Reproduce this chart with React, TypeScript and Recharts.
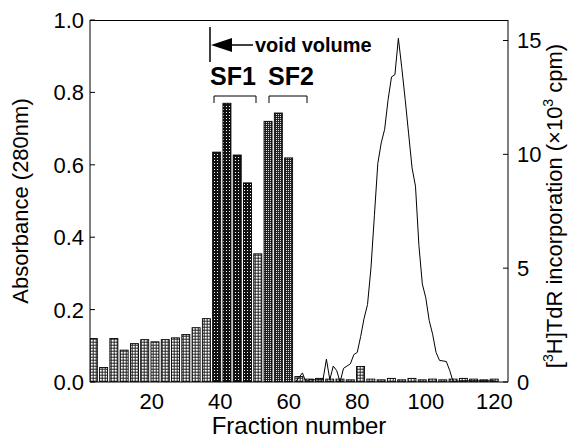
import { ComposedChart, Bar, Line, XAxis, YAxis, Cell } from "recharts";

// bars: one per pooled fraction, in absorbance units (left axis)
const barFractions = [
  3, 6, 9, 12, 15, 18, 21, 24, 27, 30, 33, 36, 39, 42, 45, 48, 51, 54, 57, 60,
  63, 66, 69, 72, 75, 78, 81, 84, 87, 90, 93, 96, 99, 102, 105, 108, 111, 114,
  117, 120,
];
const barAbsorbance = [
  0.12, 0.04, 0.12, 0.088, 0.106, 0.117, 0.111, 0.117, 0.122, 0.131, 0.15,
  0.175, 0.635, 0.77, 0.627, 0.55, 0.354, 0.72, 0.743, 0.619, 0.015, 0.008,
  0.01, 0.008, 0.008, 0.006, 0.043, 0.008, 0.006, 0.01, 0.006, 0.01, 0.006,
  0.008, 0.006, 0.008, 0.01, 0.008, 0.006, 0.008,
];
const barGroups = [
  "light", "light", "light", "light", "light", "light", "light", "light",
  "light", "light", "light", "light", "sf1", "sf1", "sf1", "sf1", "light",
  "sf2", "sf2", "sf2", "light", "light", "light", "light", "light", "light",
  "light", "light", "light", "light", "light", "light", "light", "light",
  "light", "light", "light", "light", "light", "light",
];

// line: [3H]TdR incorporation (x10^3 cpm, right axis)
const lineFractions = [
  62, 64, 65, 66, 68, 70, 71, 72, 73, 74, 75, 76, 78, 79, 80, 81, 82, 83, 84,
  85, 86, 87, 88, 89, 90, 91, 92, 93, 94, 95, 96, 97, 98, 99, 100, 101, 102,
  103, 104, 106, 107, 108, 110, 120,
];
const lineCpm = [
  0, 0.4, 0, 0.1, 0.1, 0.1, 1.0, 0.1, 0.7, 0.5, 0, 0.6, 0.8, 1.2, 1.3, 2.0,
  2.8, 3.4, 5.0, 7.3, 9.6, 10.5, 11.1, 12.4, 13.4, 13.5, 15.1, 13.8, 12.4,
  10.9, 9.4, 8.6, 6.0, 4.3, 3.7, 2.7, 2.1, 1.3, 0.95, 0.9, 0.5, 0, 0.05, 0.05,
];

const absorbanceTicks = [0, 0.2, 0.4, 0.6, 0.8, 1.0];
const cpmTicks = [0, 5, 10, 15];
const fractionTicks = [20, 40, 60, 80, 100, 120];
const fractionDomain = [2, 124];

const W = 580;
const H = 441;
const PLOT_LEFT = 90;
const PLOT_RIGHT = 508;
const PLOT_TOP = 20;
const PLOT_BOTTOM = 382;
const BAR_W = 8;
const FONT = '"Liberation Sans", Arial, Helvetica, sans-serif';

const barData = barFractions.map((f, i) => ({
  fraction: f,
  absorbance: barAbsorbance[i],
  group: barGroups[i],
}));
const lineData = lineFractions.map((f, i) => ({ fraction: f, cpm: lineCpm[i] }));

const fills: Record<string, string> = {
  light: "url(#pLight)",
  sf1: "url(#pSf1)",
  sf2: "url(#pSf2)",
};

// narrower rect centred in the band the library hands us
function BarShape(props: any) {
  const { x, y, width, height, payload } = props;
  if (!height || height <= 0) return null;
  const cx = x + width / 2;
  return (
    <rect
      x={cx - BAR_W / 2}
      y={y}
      width={BAR_W}
      height={height}
      fill={fills[payload.group]}
      stroke="#000"
      strokeWidth={0.9}
    />
  );
}

function LeftTick(props: any) {
  const { y, payload } = props;
  return (
    <g>
      <line x1={PLOT_LEFT} x2={PLOT_LEFT + 5} y1={y} y2={y} stroke="#000" />
      <text x={PLOT_LEFT - 6} y={y} dy="0.36em" textAnchor="end" fontSize={22} fontFamily={FONT} fill="#000">
        {Number(payload.value).toFixed(1)}
      </text>
    </g>
  );
}

function RightTick(props: any) {
  const { y, payload } = props;
  return (
    <g>
      <line x1={PLOT_RIGHT - 5} x2={PLOT_RIGHT} y1={y} y2={y} stroke="#000" />
      <text x={PLOT_RIGHT + 9} y={y} dy="0.36em" textAnchor="start" fontSize={22} fontFamily={FONT} fill="#000">
        {payload.value}
      </text>
    </g>
  );
}

function BottomTick(props: any) {
  const { x, payload } = props;
  return (
    <text x={x} y={PLOT_BOTTOM + 27} textAnchor="middle" fontSize={22} fontFamily={FONT} fill="#000">
      {payload.value}
    </text>
  );
}

export default function App() {
  return (
    <div
      style={{
        position: "absolute",
        left: 0,
        top: 0,
        width: W,
        height: H,
        background: "#fff",
        fontFamily: FONT,
      }}
    >
      <ComposedChart
        width={W}
        height={H}
        data={barData}
        margin={{ top: PLOT_TOP, right: 0, bottom: 0, left: 0 }}
      >
        <defs>
          <pattern id="pLight" width="3" height="3" patternUnits="userSpaceOnUse">
            <rect width="3" height="3" fill="#222" />
            <rect x="0.7" y="0.7" width="2" height="2" fill="#fff" />
          </pattern>
          <pattern id="pSf1" width="3" height="3" patternUnits="userSpaceOnUse">
            <rect width="3" height="3" fill="#111" />
            <rect x="1" y="1" width="1" height="1" fill="#fff" />
          </pattern>
          <pattern id="pSf2" width="2" height="2" patternUnits="userSpaceOnUse">
            <rect width="2" height="2" fill="#222" />
            <rect x="0" y="0" width="1" height="1" fill="#ddd" />
          </pattern>
        </defs>
        <XAxis
          dataKey="fraction"
          type="number"
          domain={fractionDomain}
          ticks={fractionTicks}
          interval={0}
          height={H - PLOT_BOTTOM}
          axisLine={{ stroke: "#000" }}
          tickLine={false}
          tick={BottomTick}
          allowDataOverflow
        />
        <XAxis
          xAxisId="line"
          dataKey="fraction"
          type="number"
          domain={fractionDomain}
          allowDataOverflow
          hide
        />
        <YAxis
          yAxisId="left"
          orientation="left"
          width={PLOT_LEFT}
          domain={[0, 1]}
          ticks={absorbanceTicks}
          interval={0}
          axisLine={{ stroke: "#000" }}
          tickLine={false}
          tick={LeftTick}
          allowDataOverflow
        />
        <YAxis
          yAxisId="right"
          orientation="right"
          width={W - PLOT_RIGHT}
          domain={[0, 15.9]}
          ticks={cpmTicks}
          interval={0}
          axisLine={{ stroke: "#000" }}
          tickLine={false}
          tick={RightTick}
          allowDataOverflow
        />
        <Bar
          yAxisId="left"
          dataKey="absorbance"
          shape={BarShape}
          isAnimationActive={false}
        >
          {barData.map((d, i) => (
            <Cell key={i} fill={fills[d.group]} />
          ))}
        </Bar>
        <Line
          xAxisId="line"
          yAxisId="right"
          data={lineData}
          dataKey="cpm"
          type="linear"
          stroke="#000"
          strokeWidth={1}
          dot={false}
          isAnimationActive={false}
        />
      </ComposedChart>

      <svg
        width={W}
        height={H}
        style={{ position: "absolute", left: 0, top: 0, pointerEvents: "none" }}
        fontFamily={FONT}
      >
        {/* top frame edge */}
        <line x1={PLOT_LEFT} x2={PLOT_RIGHT} y1={PLOT_TOP + 0.5} y2={PLOT_TOP + 0.5} stroke="#000" />

        {/* void volume marker */}
        <line x1={210} x2={210} y1={27} y2={62} stroke="#000" strokeWidth={1.5} />
        <polygon points="211,45 232,38 232,52" fill="#000" />
        <line x1={230} x2={253} y1={45} y2={45} stroke="#000" strokeWidth={1.5} />
        <text x={255} y={52} fontSize={20} fontWeight="bold" fill="#000">
          void volume
        </text>

        {/* SF1 / SF2 labels and brackets */}
        <text x={210} y={85} fontSize={25} fontWeight="bold" fill="#000">
          SF1
        </text>
        <text x={268} y={85} fontSize={25} fontWeight="bold" fill="#000">
          SF2
        </text>
        <polyline points="214,103 214,96 256,96 256,103" fill="none" stroke="#000" />
        <polyline points="269,103 269,96 307,96 307,103" fill="none" stroke="#000" />

        {/* axis titles */}
        <text
          transform={`translate(28, ${(PLOT_TOP + PLOT_BOTTOM) / 2}) rotate(-90)`}
          textAnchor="middle"
          fontSize={22}
          fill="#000"
        >
          Absorbance (280nm)
        </text>
        <text
          transform={`translate(562, ${(PLOT_TOP + PLOT_BOTTOM) / 2 + 5}) rotate(-90)`}
          textAnchor="middle"
          fontSize={22}
          fill="#000"
        >
          [<tspan fontSize={14} dy={-9}>3</tspan>
          <tspan dy={9}>H]TdR incorporation (×10</tspan>
          <tspan fontSize={14} dy={-9}>3</tspan>
          <tspan dy={9}> cpm)</tspan>
        </text>
        <text x={(PLOT_LEFT + PLOT_RIGHT) / 2} y={434} textAnchor="middle" fontSize={24} fill="#000">
          Fraction number
        </text>
      </svg>
    </div>
  );
}
